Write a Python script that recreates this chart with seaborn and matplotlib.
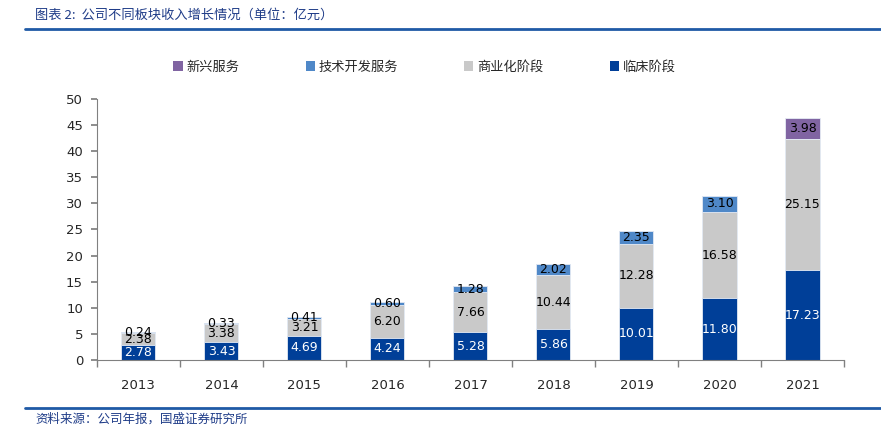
import matplotlib
matplotlib.use("Agg")
import matplotlib.pyplot as plt
from matplotlib.patches import Patch
import numpy as np
import pandas as pd
import seaborn as sns

# data (unit: 亿元)
years = ["2013", "2014", "2015", "2016", "2017", "2018", "2019", "2020", "2021"]
clinical = [2.78, 3.43, 4.69, 4.24, 5.28, 5.86, 10.01, 11.80, 17.23]
commercial = [2.38, 3.38, 3.21, 6.20, 7.66, 10.44, 12.28, 16.58, 25.15]
tech_dev = [0.24, 0.33, 0.41, 0.60, 1.28, 2.02, 2.35, 3.10, 0.0]
emerging = [0.0, 0.0, 0.0, 0.0, 0.0, 0.0, 0.0, 0.0, 3.98]

series_names = ["临床阶段", "商业化阶段", "技术开发服务", "新兴服务"]
series_colors = ["#003F98", "#C9C9C9", "#4F88C8", "#8064A2"]
label_colors = ["white", "black", "black", "black"]

sns.set_theme(style="white")
plt.rcParams["font.family"] = ["Noto Sans CJK SC", "DejaVu Sans"]

df = pd.DataFrame({"year": years, "临床阶段": clinical, "商业化阶段": commercial,
                   "技术开发服务": tech_dev, "新兴服务": emerging})
vals = df[series_names].to_numpy()
tops = vals.cumsum(axis=1)

fig = plt.figure(figsize=(8.81, 4.33), dpi=100)
ax = fig.add_axes([0.110, 0.1686, 0.848, 0.603])

# draw stacks from the top segment downwards so each layer covers the one above
for k in range(len(series_names) - 1, -1, -1):
    sns.barplot(x=df["year"], y=tops[:, k], color=series_colors[k], width=0.41,
                edgecolor="#E6ECF5", linewidth=0.6, saturation=1, ax=ax)

# value labels centred in their segments (small ones overlap, as in the original)
for k in range(len(series_names)):
    for i in range(len(years)):
        v = vals[i, k]
        if v <= 0:
            continue
        ax.text(i, tops[i, k] - v / 2, f"{v:.2f}", ha="center", va="center",
                fontsize=9, color=label_colors[k], family="DejaVu Sans")

ax.set_xlim(-0.5, len(years) - 0.5)
ax.set_ylim(0, 50)
ax.set_yticks(range(0, 51, 5))
ax.set_xlabel("")
ax.set_ylabel("")
for s in ["top", "right"]:
    ax.spines[s].set_visible(False)
for s in ["left", "bottom"]:
    ax.spines[s].set_color("#808080")
    ax.spines[s].set_linewidth(0.8)

ax.tick_params(axis="y", which="major", left=True, length=4, color="#808080",
               labelsize=9.5, pad=6)
ax.tick_params(axis="x", which="major", bottom=False, labelsize=9.5, pad=8)
ax.set_xticks(np.arange(-0.5, len(years), 1.0), minor=True)
ax.tick_params(axis="x", which="minor", bottom=True, length=5, color="#808080")
for lab in ax.get_xticklabels() + ax.get_yticklabels():
    lab.set_family("DejaVu Sans")

# legend in the order of the original
order = [3, 2, 1, 0]
handles = [Patch(facecolor=series_colors[k], edgecolor="none") for k in order]
fig.legend(handles, [series_names[k] for k in order], loc="center",
           bbox_to_anchor=(0.482, 0.845), ncol=4, frameon=False, fontsize=9.5,
           handlelength=0.7, handleheight=0.7, handletextpad=0.3, columnspacing=5.0)

# header and footer
fig.text(0.04, 0.965, "图表 2:  公司不同板块收入增长情况（单位：亿元）", fontsize=9.5,
         color="#1F3C88", style="italic", va="center")
fig.add_artist(plt.Line2D([0.028, 1.0], [0.933, 0.933], color="#1F5AA6", lw=2))
fig.add_artist(plt.Line2D([0.028, 1.0], [0.058, 0.058], color="#1F5AA6", lw=2))
fig.text(0.04, 0.033, "资料来源：公司年报，国盛证券研究所", fontsize=9,
         color="#1F3C88", style="italic", va="center")

fig.savefig("out.png", dpi=100)
